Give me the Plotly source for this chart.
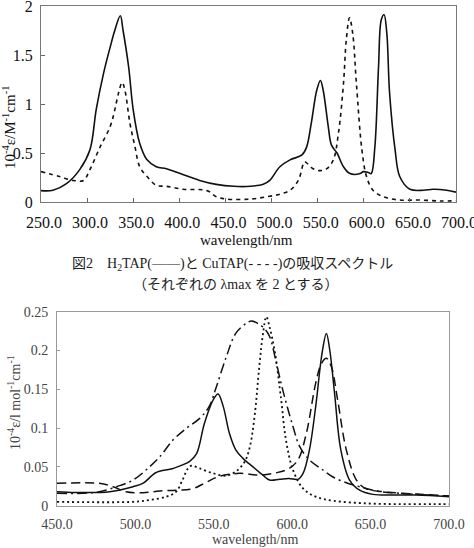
import plotly.graph_objects as go

# ---------------- top chart data ----------------
h2_wl = [250, 263, 278, 292, 303, 310, 318, 325, 330, 336, 339, 345, 350, 357, 365, 375, 386, 401, 422, 440, 459, 477, 491, 498, 509, 520, 533, 538, 543, 549, 553, 556, 561.5, 565, 571, 578, 585, 596, 599.5, 605, 608, 612, 616, 619, 622, 625, 628, 634, 639, 650, 665, 675, 690, 700]
h2_val = [0.116, 0.12, 0.19, 0.33, 0.53, 0.95, 1.32, 1.58, 1.75, 1.9, 1.75, 1.38, 0.94, 0.6, 0.43, 0.36, 0.34, 0.29, 0.22, 0.18, 0.16, 0.16, 0.18, 0.22, 0.36, 0.43, 0.48, 0.56, 0.8, 1.14, 1.24, 1.14, 0.77, 0.58, 0.5, 0.36, 0.29, 0.29, 0.31, 0.3, 0.29, 0.56, 1.38, 1.86, 1.91, 1.72, 1.11, 0.53, 0.26, 0.13, 0.12, 0.13, 0.12, 0.10]

cu_wl = [250, 270, 285, 296, 303, 314, 325, 330, 334, 338, 341, 346.5, 352, 357, 365, 375, 386, 404, 430, 440, 451, 477, 495, 509, 520, 529, 534.5, 536, 545, 552.5, 560, 567, 572.5, 578, 581, 584.5, 588, 592, 598, 603, 610, 621, 639, 661, 683, 700]
cu_val = [0.31, 0.26, 0.22, 0.22, 0.33, 0.56, 0.77, 0.94, 1.11, 1.22, 1.14, 0.8, 0.56, 0.36, 0.26, 0.17, 0.16, 0.13, 0.116, 0.054, 0.03, 0.03, 0.054, 0.08, 0.12, 0.22, 0.39, 0.41, 0.34, 0.32, 0.34, 0.43, 0.70, 1.21, 1.65, 1.88, 1.72, 1.21, 0.53, 0.26, 0.12, 0.054, 0.02, 0.02, 0.01, 0.013]

top_xticks = [250, 300, 350, 400, 450, 500, 550, 600, 650, 700]
top_xlabels = ["250.0", "300.0", "350.0", "400.0", "450.0", "500.0", "550.0", "600.0", "650.0", "700.0"]
top_yticks = [0, 0.5, 1, 1.5, 2]
top_ylabels = ["0", "0.5", "1", "1.5", "2"]

# ---------------- bottom chart data ----------------
s_wl = [450, 462, 483.6, 498.5, 505, 513, 524, 534.6, 539, 544, 549.5, 552.7, 556, 560, 564, 568.6, 575, 581, 585.6, 592, 598, 603.7, 607, 611, 615, 619, 621.8, 624, 627, 631, 636.6, 643, 651.5, 664, 679, 700]
s_val = [0.018, 0.017, 0.018, 0.0245, 0.029, 0.0425, 0.048, 0.057, 0.067, 0.106, 0.136, 0.144, 0.128, 0.093, 0.072, 0.061, 0.050, 0.040, 0.033, 0.034, 0.035, 0.034, 0.042, 0.072, 0.128, 0.196, 0.222, 0.2, 0.145, 0.072, 0.033, 0.02, 0.0146, 0.0137, 0.0137, 0.0116]

ld_wl = [450, 477, 485.7, 494, 505, 515.5, 526, 536.7, 545, 553.7, 566.5, 579, 590, 598, 603.7, 609, 615, 618.6, 621.8, 625, 629, 634.5, 641, 647, 658, 679, 700]
ld_val = [0.0288, 0.0288, 0.0245, 0.018, 0.0168, 0.019, 0.020, 0.022, 0.030, 0.038, 0.0417, 0.0395, 0.0425, 0.048, 0.059, 0.093, 0.158, 0.183, 0.19, 0.179, 0.136, 0.072, 0.033, 0.022, 0.018, 0.015, 0.0125]

dd_wl = [450, 466.6, 477, 488, 498.5, 509, 515.5, 524, 532.5, 541, 547, 551.6, 558, 564, 570.7, 574, 578, 582.4, 585.6, 590, 594, 600.5, 604.8, 611, 619.6, 626, 634.5, 643, 653.6, 668.5, 700]
dd_val = [0.016, 0.016, 0.018, 0.0245, 0.033, 0.050, 0.063, 0.0846, 0.0997, 0.1125, 0.1276, 0.153, 0.192, 0.222, 0.235, 0.238, 0.235, 0.228, 0.218, 0.183, 0.149, 0.102, 0.076, 0.059, 0.046, 0.037, 0.0296, 0.0245, 0.019, 0.016, 0.0125]

dt_wl = [450, 498.5, 509, 519.7, 526, 530, 533.5, 535.7, 541, 549.5, 558, 564, 569.7, 573, 576, 579, 581.4, 583.5, 585.6, 588.8, 593, 596, 600.5, 607, 615, 626, 647, 668.5, 690, 700]
dt_val = [0.005, 0.005, 0.0073, 0.0116, 0.018, 0.033, 0.048, 0.0515, 0.048, 0.0417, 0.0387, 0.044, 0.0567, 0.076, 0.115, 0.179, 0.222, 0.2436, 0.23, 0.2, 0.136, 0.085, 0.046, 0.022, 0.0116, 0.0064, 0.003, 0.002, 0.002, 0.002]

bot_xticks = [450, 500, 550, 600, 650, 700]
bot_xlabels = ["450.0", "500.0", "550.0", "600.0", "650.0", "700.0"]
bot_yticks = [0, 0.05, 0.1, 0.15, 0.2, 0.25]
bot_ylabels = ["0", "0.05", "0.1", "0.15", "0.2", "0.25"]

W, H = 474, 548
SERIF = "Liberation Serif"
JP = "Liberation Serif, Noto Sans CJK JP"

fig = go.Figure()

fig.add_trace(go.Scatter(x=h2_wl, y=h2_val, mode="lines", line=dict(color="#111", width=1.6, shape="spline"),
                         xaxis="x", yaxis="y", showlegend=False))
fig.add_trace(go.Scatter(x=cu_wl, y=cu_val, mode="lines", line=dict(color="#111", width=1.6, dash="4px,4px", shape="spline"),
                         xaxis="x", yaxis="y", showlegend=False))

fig.add_trace(go.Scatter(x=s_wl, y=s_val, mode="lines", line=dict(color="#111", width=1.5, shape="spline"),
                         xaxis="x2", yaxis="y2", showlegend=False))
fig.add_trace(go.Scatter(x=ld_wl, y=ld_val, mode="lines", line=dict(color="#111", width=1.5, dash="9px,5px", shape="spline"),
                         xaxis="x2", yaxis="y2", showlegend=False))
fig.add_trace(go.Scatter(x=dd_wl, y=dd_val, mode="lines", line=dict(color="#111", width=1.5, dash="10px,4px,2px,4px", shape="spline"),
                         xaxis="x2", yaxis="y2", showlegend=False))
fig.add_trace(go.Scatter(x=dt_wl, y=dt_val, mode="lines", line=dict(color="#111", width=1.8, dash="2px,3px", shape="spline"),
                         xaxis="x2", yaxis="y2", showlegend=False))

def px_x(p):
    return p / W

def px_y(p):
    return 1 - p / H

common = dict(showgrid=False, zeroline=False, showline=True, linewidth=1, mirror=True, automargin=False,
              ticklabeloverflow="allow")

fig.update_layout(
    width=W, height=H,
    margin=dict(l=0, r=0, t=0, b=0, pad=0, autoexpand=False),
    paper_bgcolor="white", plot_bgcolor="white",
    font=dict(family=SERIF),
    xaxis=dict(domain=[px_x(41), px_x(456)], range=[250, 700], tickvals=top_xticks, ticktext=top_xlabels,
               linecolor="#777", ticks="inside", ticklen=4, tickcolor="#666", ticklabelstandoff=6, ticklabelshift=3,
               tickfont=dict(family=SERIF, size=16, color="#111"), anchor="y", **common),
    yaxis=dict(domain=[px_y(202), px_y(6)], range=[0, 2], tickvals=top_yticks, ticktext=top_ylabels,
               linecolor="#777", ticks="inside", ticklen=4, tickcolor="#666", ticklabelstandoff=4,
               tickfont=dict(family=SERIF, size=16, color="#111"), anchor="x", **common),
    xaxis2=dict(domain=[px_x(57), px_x(449)], range=[450, 700], tickvals=bot_xticks, ticktext=bot_xlabels,
                linecolor="#999", ticks="", ticklabelstandoff=5,
                tickfont=dict(family=SERIF, size=14, color="#444"), anchor="y2", **common),
    yaxis2=dict(domain=[px_y(505.7), px_y(311.7)], range=[0, 0.25], tickvals=bot_yticks, ticktext=bot_ylabels,
                linecolor="#999", ticks="inside", ticklen=3, tickcolor="#999", ticklabelstandoff=5,
                tickfont=dict(family=SERIF, size=14, color="#444"), anchor="x2", **common),
)

anns = [
    dict(text="10<sup>-4</sup>ε/M<sup>-1</sup>cm<sup>-1</sup>", x=px_x(9), y=px_y(128), textangle=-90,
         font=dict(family=SERIF, size=15, color="#111")),
    dict(text="wavelength/nm", x=px_x(247), y=px_y(240), font=dict(family=SERIF, size=15, color="#111")),
    dict(text="図2　H<sub>2</sub>TAP(――)と CuTAP(- - - -)の吸収スペクトル", x=px_x(232), y=px_y(264),
         font=dict(family=JP, size=14, color="#222")),
    dict(text="（それぞれの λmax を 2 とする）", x=px_x(235), y=px_y(284),
         font=dict(family=JP, size=14, color="#222")),
    dict(text="10<sup>-4</sup>ε/l mol<sup>-1</sup>cm<sup>-1</sup>", x=px_x(14), y=px_y(403), textangle=-90,
         font=dict(family=SERIF, size=14, color="#444")),
    dict(text="wavelength/nm", x=px_x(255), y=px_y(539), font=dict(family=SERIF, size=14, color="#444")),
]
for a in anns:
    a.update(xref="paper", yref="paper", showarrow=False, xanchor="center", yanchor="middle")
fig.update_layout(annotations=anns)

fig.write_html("out.html")
